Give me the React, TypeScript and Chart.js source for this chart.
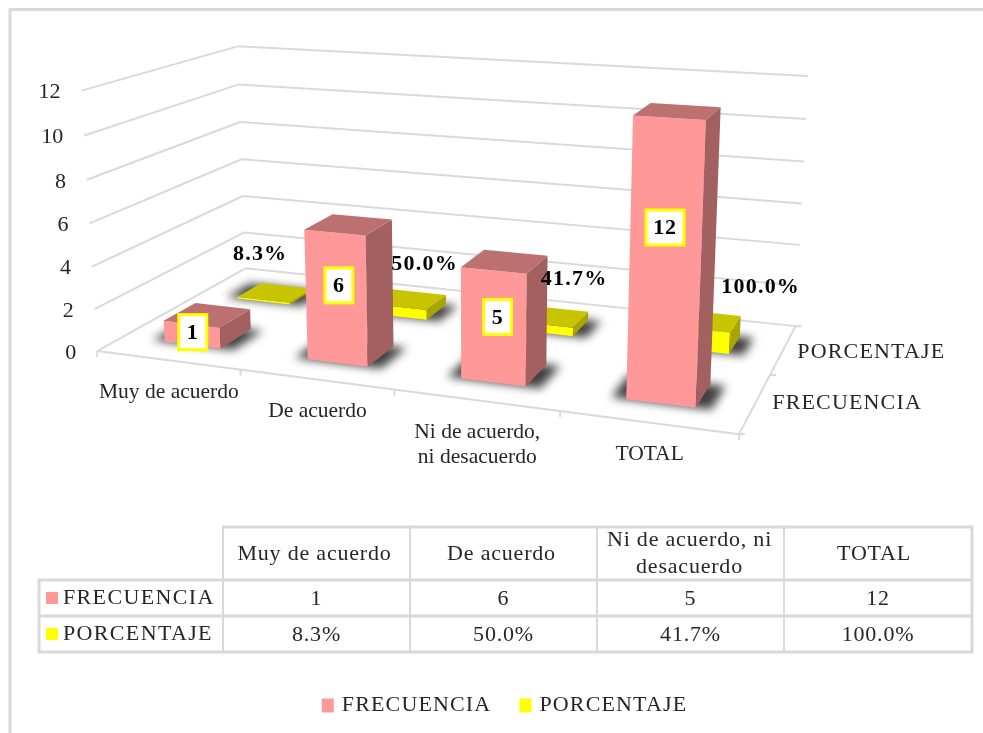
import { useEffect, useRef } from "react";
import { Chart, registerables } from "chart.js";

Chart.register(...registerables);

// ---- data ----
const categories = [["Muy de acuerdo"], ["De acuerdo"], ["Ni de acuerdo,", "ni desacuerdo"], ["TOTAL"]];
const tableHeaders = [["Muy de acuerdo"], ["De acuerdo"], ["Ni de acuerdo, ni", "desacuerdo"], ["TOTAL"]];
const seriesNames = ["FRECUENCIA", "PORCENTAJE"];
const frecuencia = [1, 6, 5, 12];
const porcentaje = [0.083, 0.5, 0.417, 1];
const seriesColors = ["#FF9999", "#FFFF00"];
const topColors = ["#BD7070", "#C8C400"];
const sideColors = ["#A36060", "#A8A400"];

// ---- layout ----
const FONT = '"Liberation Serif", "Times New Roman", serif';
const GRID = "#d9d9d9";
const TEXT = "#262626";
const depthRanges = [[0.155, 0.36], [0.65, 0.83]];
const frontNudges = [[-15, 7], [-11, -4], [-7, 0], [-8, -27]];
const backNudges = [[-15, -38], [16, -35], [23, -37], [57, -34]];
// calibration of the 3D view: (category axis, depth, height) -> page pixel
const view: number[][] = [
  [0, 0, 0, 98, 351], [1, 0, 0, 738, 433], [0, 1, 0, 245, 268], [1, 1, 0, 797, 326],
  [0, 0, 1, 81, 89], [0, 1, 1, 238, 47], [1, 1, 1, 807, 77], [1, 0, 1, 753, 134],
  [0.25, 0, 0, 241, 370], [0.5, 0, 0, 394, 390], [0.75, 0, 0, 559, 413],
  [1, 0.5, 0, 770, 374], [0, 0, 0.5, 90, 224], [0, 1, 0.5, 241, 159], [1, 1, 0.5, 802, 203],
];
const tableX = [39, 223, 410, 597, 784, 972];
const tableY = [527, 580, 616, 652];
const headerShift = [-2, -2, -1, -4];

function solveProjection(points: number[][]) {
  const n = 11;
  const A: number[][] = Array.from({ length: n }, () => new Array(n + 1).fill(0));
  const add = (r: number[], t: number) => {
    for (let i = 0; i < n; i++) {
      for (let j = 0; j < n; j++) A[i][j] += r[i] * r[j];
      A[i][n] += r[i] * t;
    }
  };
  for (const [X, Y, Z, px, py] of points) {
    const x = px / 1000, y = py / 1000;
    add([X, Y, Z, 1, 0, 0, 0, 0, -x * X, -x * Y, -x * Z], x);
    add([0, 0, 0, 0, X, Y, Z, 1, -y * X, -y * Y, -y * Z], y);
  }
  for (let c = 0; c < n; c++) {
    let p = c;
    for (let r = c + 1; r < n; r++) if (Math.abs(A[r][c]) > Math.abs(A[p][c])) p = r;
    [A[c], A[p]] = [A[p], A[c]];
    for (let r = 0; r < n; r++) {
      if (r === c) continue;
      const f = A[r][c] / A[c][c];
      for (let k = c; k <= n; k++) A[r][k] -= f * A[c][k];
    }
  }
  return A.map((row, i) => row[n] / row[i]);
}
const P = solveProjection(view);
const proj = (u: number, v: number, w: number): [number, number] => {
  const d = P[8] * u + P[9] * v + P[10] * w + 1;
  return [
    (1000 * (P[0] * u + P[1] * v + P[2] * w + P[3])) / d,
    (1000 * (P[4] * u + P[5] * v + P[6] * w + P[7])) / d,
  ];
};

function drawText(
  ctx: CanvasRenderingContext2D, text: string, x: number, y: number,
  o: { size?: number; bold?: boolean; spacing?: number; align?: CanvasTextAlign; color?: string } = {}
) {
  ctx.font = `${o.bold ? "bold " : ""}${o.size ?? 22}px ${FONT}`;
  (ctx as any).letterSpacing = `${o.spacing ?? 0}px`;
  ctx.textAlign = o.align ?? "center";
  ctx.textBaseline = "middle";
  ctx.fillStyle = o.color ?? TEXT;
  ctx.fillText(text, x, y);
  (ctx as any).letterSpacing = "0px";
}
function poly(ctx: CanvasRenderingContext2D, pts: [number, number][], fill: string) {
  ctx.beginPath();
  pts.forEach((p, i) => (i ? ctx.lineTo(p[0], p[1]) : ctx.moveTo(p[0], p[1])));
  ctx.closePath();
  ctx.fillStyle = fill;
  ctx.fill();
}
function line(ctx: CanvasRenderingContext2D, a: [number, number], b: [number, number], width = 2, color = GRID) {
  ctx.beginPath();
  ctx.moveTo(a[0], a[1]);
  ctx.lineTo(b[0], b[1]);
  ctx.strokeStyle = color;
  ctx.lineWidth = width;
  ctx.stroke();
}

const fmtPct = (v: number) => `${(v * 100).toFixed(1)}%`;

const scene3d = {
  id: "scene3d",
  afterLayout(chart: any) {
    const lg = chart.legend;
    lg.left += 3; lg.right += 3;
    const dy = 695 - (lg.top + lg.height / 2);
    lg.top += dy; lg.bottom += dy;
  },
  beforeDraw(chart: any) {
    const ctx: CanvasRenderingContext2D = chart.ctx;
    ctx.save();
    ctx.fillStyle = "#fff";
    ctx.fillRect(0, 0, chart.width, chart.height);
    ctx.strokeStyle = GRID;
    ctx.lineWidth = 3;
    ctx.lineJoin = "miter";
    ctx.strokeRect(10, 9.5, 1200, 1200);
    ctx.restore();
    (ctx as any).letterSpacing = "1.15px";
  },
  beforeDatasetsDraw(chart: any) {
    const ctx: CanvasRenderingContext2D = chart.ctx;
    const area = chart.chartArea;
    const xs = chart.scales.x, ys = chart.scales.y;
    const U = (px: number) => (px - area.left) / area.width;
    const W = (py: number) => (area.bottom - py) / area.height;
    ctx.save();
    (ctx as any).letterSpacing = "0px";
    ctx.lineCap = "butt";
    ctx.lineJoin = "miter";

    // walls and floor
    for (const t of ys.ticks) {
      const w = W(ys.getPixelForValue(t.value));
      line(ctx, proj(0, 0, w), proj(0, 1, w));
      line(ctx, proj(0, 1, w), proj(1, 1, w));
      const [lx, ly] = proj(0, 0, w);
      drawText(ctx, String(t.value), lx - 21, ly + 2, { align: "right" });
    }
    line(ctx, proj(0, 0, 0), proj(1, 0, 0));
    line(ctx, proj(1, 0, 0), proj(1, 1, 0));
    for (let i = 0; i <= categories.length; i++) {
      const a = proj(i / categories.length, 0, 0);
      line(ctx, a, [a[0], a[1] + 6]);
    }
    for (let i = 0; i <= 2; i++) {
      const a = proj(1, i / 2, 0);
      line(ctx, a, [a[0] + 6, a[1]]);
    }

    // axis labels
    categories.forEach((lines, i) => {
      const a = proj(U(xs.getPixelForValue(i)), 0, 0);
      const midX = (proj(i / categories.length, 0, 0)[0] + proj((i + 1) / categories.length, 0, 0)[0]) / 2;
      lines.forEach((t, k) => drawText(ctx, t, midX, a[1] + 32 + k * 25, { size: 21.5 }));
    });
    seriesNames.forEach((name, s) => {
      const a = proj(1, s === 0 ? 0.25 : 0.75, 0);
      drawText(ctx, name, a[0] + (s === 0 ? 17 : 14), a[1] + (s === 0 ? 0 : 3), { align: "left", spacing: 1.15 });
    });

    // bars: far series first
    for (const s of [1, 0]) {
      const meta = chart.getDatasetMeta(s);
      const [v0, v1] = depthRanges[s];
      meta.data.forEach((el: any) => {
        const u0 = U(el.x - el.width / 2), u1 = U(el.x + el.width / 2);
        const b = W(el.base), t = W(el.y);
        ctx.save();
        (ctx as any).filter = "blur(5px)";
        poly(ctx, [proj(u0 - 0.022, v0, 0), proj(u1 + 0.022, v0, 0), proj(u1 + 0.022, v1, 0), proj(u0 - 0.022, v1, 0)], "#404040");
        ctx.restore();
        poly(ctx, [proj(u0, v0, b), proj(u1, v0, b), proj(u1, v0, t), proj(u0, v0, t)], seriesColors[s]);
        poly(ctx, [proj(u1, v0, b), proj(u1, v1, b), proj(u1, v1, t), proj(u1, v0, t)], sideColors[s]);
        poly(ctx, [proj(u0, v0, t), proj(u1, v0, t), proj(u1, v1, t), proj(u0, v1, t)], topColors[s]);
      });
    }

    // data labels
    for (const s of [1, 0]) {
      const meta = chart.getDatasetMeta(s);
      const [v0, v1] = depthRanges[s];
      meta.data.forEach((el: any, i: number) => {
        const vMid = (v0 + v1) / 2, uMid = U(el.x);
        if (s === 0) {
          const a = proj(uMid, vMid, W(el.y) / 2);
          const x = a[0] + frontNudges[i][0], y = a[1] + frontNudges[i][1];
          const text = String(frecuencia[i]);
          const bw = text.length > 1 ? 38 : 28;
          ctx.fillStyle = "#fff";
          ctx.fillRect(x - bw / 2, y - 17.5, bw, 35);
          ctx.strokeStyle = "#FFFF00";
          ctx.lineWidth = 3;
          ctx.strokeRect(x - bw / 2, y - 17.5, bw, 35);
          drawText(ctx, text, x, y + 1, { bold: true, color: "#000", spacing: 0.8 });
        } else {
          const a = proj(uMid, vMid, W(el.y));
          drawText(ctx, fmtPct(porcentaje[i]), a[0] + backNudges[i][0], a[1] + backNudges[i][1], { bold: true, color: "#000", spacing: 1.2 });
        }
      });
    }

    // data table
    const L = (a: [number, number], b: [number, number], w = 2) => line(ctx, a, b, w);
    L([tableX[1], tableY[0]], [tableX[5], tableY[0]], 3);
    tableY.slice(1).forEach((y) => L([tableX[0], y], [tableX[5], y], 3));
    L([tableX[0], tableY[1] - 1.5], [tableX[0], tableY[3] + 1.5], 3);
    tableX.slice(1).forEach((x, i) => L([x, tableY[0] - 1.5], [x, tableY[3] + 1.5], i === 4 ? 3 : 2));
    tableHeaders.forEach((lines, i) => {
      const cx = (tableX[i + 1] + tableX[i + 2]) / 2 + headerShift[i];
      const cy = 554;
      lines.forEach((t, k) => drawText(ctx, t, cx, cy + (k - (lines.length - 1) / 2) * 27, { spacing: 0.8 }));
    });
    const rows = [frecuencia.map(String), porcentaje.map(fmtPct)];
    rows.forEach((row, r) => {
      const cy = (tableY[r + 1] + tableY[r + 2]) / 2;
      poly(ctx, [[46, cy - 6], [58, cy - 6], [58, cy + 6], [46, cy + 6]], seriesColors[r]);
      drawText(ctx, seriesNames[r], 63, cy, { align: "left", spacing: 1.35 });
      row.forEach((t, i) => drawText(ctx, t, (tableX[i + 1] + tableX[i + 2]) / 2, cy + 1, { spacing: 0.8 }));
    });
    ctx.restore();
    return false;
  },
};

export default function App() {
  const ref = useRef<HTMLCanvasElement>(null);
  useEffect(() => {
    const chart = new Chart(ref.current as HTMLCanvasElement, {
      type: "bar",
      data: {
        labels: categories as any,
        datasets: [
          { label: seriesNames[0], data: frecuencia, backgroundColor: seriesColors[0] },
          { label: seriesNames[1], data: porcentaje, backgroundColor: seriesColors[1] },
        ],
      },
      options: {
        responsive: false,
        animation: false,
        events: [],
        layout: { padding: 0 },
        datasets: { bar: { barPercentage: 1, categoryPercentage: 0.4 } },
        scales: {
          x: { display: false, stacked: true },
          y: { display: false, min: 0, max: 12, ticks: { stepSize: 2 } },
        },
        plugins: {
          tooltip: { enabled: false },
          legend: {
            position: "bottom",
            labels: {
              color: TEXT,
              font: { family: FONT, size: 22 },
              boxWidth: 6,
              boxHeight: 8,
              padding: 31,
              generateLabels: (chart: any) =>
                chart.data.datasets.map((d: any, i: number) => ({
                  text: d.label,
                  fillStyle: d.backgroundColor,
                  strokeStyle: d.backgroundColor,
                  lineWidth: 6,
                  datasetIndex: i,
                  fontColor: TEXT,
                })),
            },
          },
        },
      } as any,
      plugins: [scene3d as any],
    });
    return () => chart.destroy();
  }, []);
  return (
    <div style={{ position: "fixed", left: 0, top: 0, width: 983, height: 733, overflow: "hidden", background: "#fff" }}>
      <canvas ref={ref} width={983} height={733} style={{ display: "block" }} />
    </div>
  );
}
